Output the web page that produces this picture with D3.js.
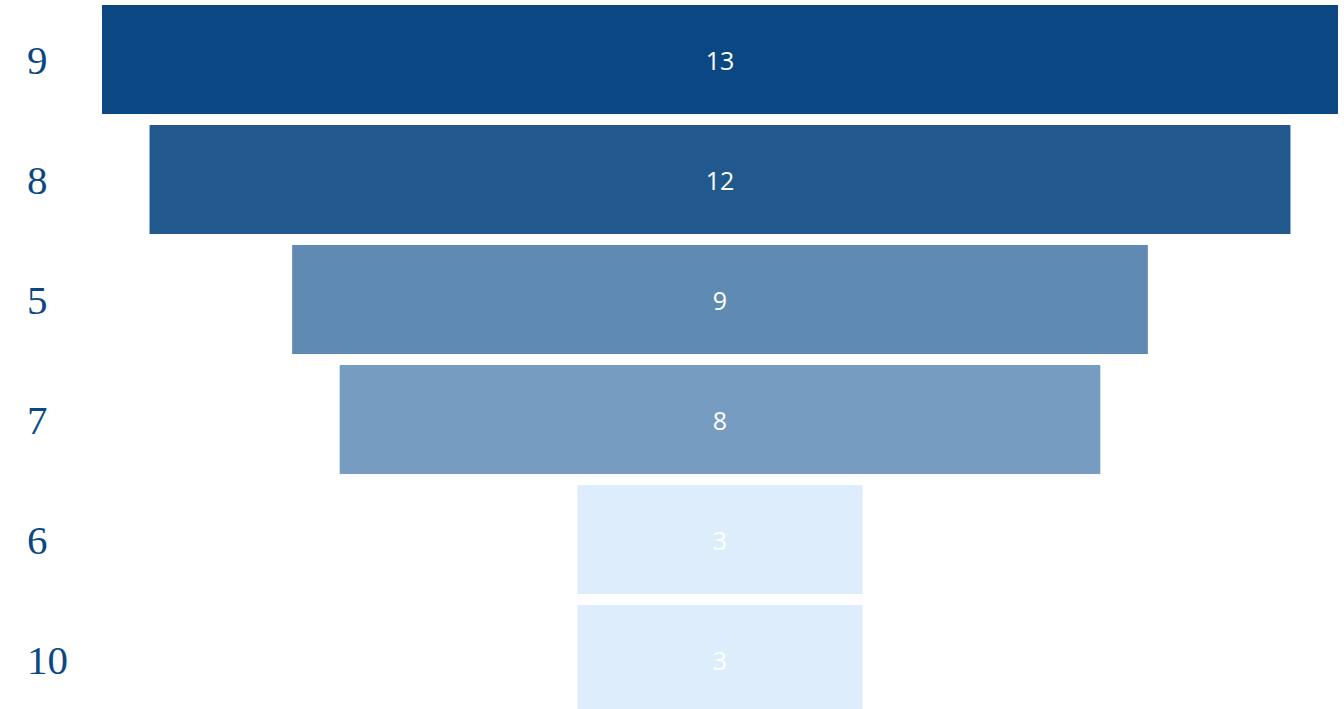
<!DOCTYPE html>
<html lang="en">
<head>
    <meta charset="UTF-8">
    <title>Funnel</title>
    <style>
        body { margin: 0; background: #fff; }
    </style>
</head>
<script src="https://d3js.org/d3.v7.min.js"></script>
<body>
<svg width="1344" height="709" class="funnel"></svg>

<script>
    // data
    var categories = ["9", "8", "5", "7", "6", "10"];
    var values = [13, 12, 9, 8, 3, 3];
    var colors = ["#0b4883", "#21598e", "#5f8ab4", "#769dc1", "#ddedfc", "#ddedfc"];

    var data = categories.map(function (c, i) {
        return {cat: c, value: values[i], color: colors[i]};
    });

    var svg = d3.select("svg.funnel"),
        centerX = 720,
        fullWidth = 1236

    var xScale = d3.scaleLinear().domain([0, 13]).range([0, fullWidth]);
    var yScale = d3.scaleBand()
        .domain(categories)
        .range([0, 719])
        .paddingInner(11 / 120)
        .paddingOuter(5 / 120);

    var g = svg.append("g");

    g.selectAll(".bar")
        .data(data)
        .enter().append("rect")
        .attr("class", "bar")
        .attr("x", function (d) {
            return centerX - xScale(d.value) / 2;
        })
        .attr("y", function (d) {
            return yScale(d.cat);
        })
        .attr("width", function (d) {
            return xScale(d.value);
        })
        .attr("height", yScale.bandwidth())
        .attr("fill", function (d) {
            return d.color;
        });

    g.selectAll(".val")
        .data(data)
        .enter().append("text")
        .attr("class", "val")
        .attr("x", centerX)
        .attr("y", function (d) {
            return yScale(d.cat) + yScale.bandwidth() / 2 + 10;
        })
        .attr("text-anchor", "middle")
        .attr("font-family", "'Open Sans', 'Noto Sans', sans-serif")
        .attr("font-size", "25px")
        .attr("fill", "#ffffff")
        .text(function (d) {
            return d.value;
        });

    g.selectAll(".cat")
        .data(data)
        .enter().append("text")
        .attr("class", "cat")
        .attr("x", 27)
        .attr("y", function (d) {
            return yScale(d.cat) + yScale.bandwidth() / 2 + 14;
        })
        .attr("font-family", "'Liberation Serif', 'DejaVu Serif', serif")
        .attr("font-size", "41px")
        .attr("fill", "#0b4883")
        .text(function (d) {
            return d.cat;
        });
</script>
</body>
</html>
